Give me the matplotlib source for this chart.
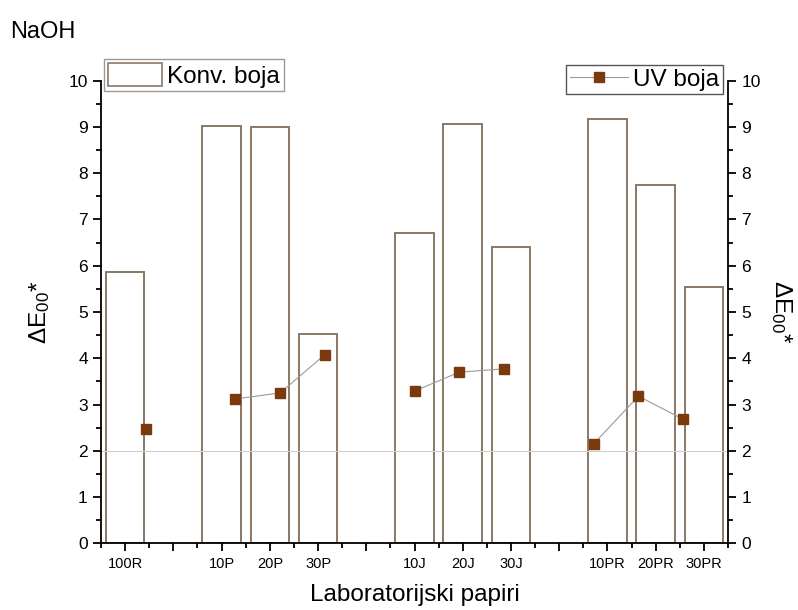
import numpy as np
import matplotlib
matplotlib.use("Agg")
import matplotlib.pyplot as plt
from matplotlib.ticker import MultipleLocator
from matplotlib.lines import Line2D
from matplotlib.patches import Patch

plt.rcParams['font.family'] = ['Liberation Sans', 'DejaVu Sans']
plt.rcParams['mathtext.fontset'] = 'custom'
plt.rcParams['mathtext.rm'] = 'Liberation Sans'
plt.rcParams['mathtext.it'] = 'Liberation Sans:italic'

# data (blank slots separate the groups)
labels = ['100R', '', '10P', '20P', '30P', '', '10J', '20J', '30J', '', '10PR', '20PR', '30PR']
konv_boja = [5.87, np.nan, 9.02, 8.99, 4.52, np.nan, 6.71, 9.06, 6.41, np.nan, 9.17, 7.74, 5.55]
uv_boja = [2.46, np.nan, 3.12, 3.25, 4.08, np.nan, 3.29, 3.70, 3.77, np.nan, 2.15, 3.18, 2.68]

bar_edge = '#8a7866'
uv_col = '#7a3a0e'

def main():
    pos = np.arange(1, len(labels) + 1)
    konv = np.array(konv_boja)
    uv = np.array(uv_boja)
    has_bar = ~np.isnan(konv)

    fig = plt.figure(figsize=(7.98, 6.10), dpi=100)
    rect = [0.1266, 0.1093, 0.7857, 0.7586]
    ax = fig.add_axes(rect)
    ax2 = fig.add_axes(rect, label='uv')
    ax2.patch.set_visible(False)

    # bars on the left layer
    ax.bar(pos[has_bar], konv[has_bar], width=0.8, facecolor='white',
           edgecolor=bar_edge, linewidth=1.4, zorder=1)
    ax.axhline(2, color='#d0d0d0', lw=0.8, zorder=2)
    ax.set_xlim(0.5, 13.5)
    ax.set_ylim(0, 10)
    ax.set_xticks(pos)
    ax.set_xticklabels(labels, fontsize=10.5)
    ax.set_xticks(np.arange(0.5, 14, 1), minor=True)
    ax.yaxis.set_major_locator(MultipleLocator(1))
    ax.yaxis.set_minor_locator(MultipleLocator(0.5))
    ax.tick_params(axis='both', which='major', direction='out', length=6, width=1.3)
    ax.tick_params(axis='both', which='minor', direction='out', length=3.5, width=1.3)
    ax.tick_params(axis='y', labelsize=12.5)
    for s in ['top', 'right']:
        ax.spines[s].set_visible(False)
    for s in ['left', 'bottom']:
        ax.spines[s].set_linewidth(1.3)
    ax.set_xlabel('Laboratorijski papiri', fontsize=17.5, labelpad=10)
    ax.set_ylabel(r'ΔE$_{00}$*', fontsize=17.5, labelpad=12)

    # points on the right layer (own x scale)
    ax2.plot(pos, uv, color='#9a9a9a', lw=0.8, zorder=3)
    ax2.plot(pos, uv, linestyle='none', marker='s', markersize=7,
             color=uv_col, zorder=4)
    ax2.set_xlim(0, 14)
    ax2.set_ylim(0, 10)
    ax2.xaxis.set_visible(False)
    ax2.yaxis.tick_right()
    ax2.yaxis.set_label_position('right')
    ax2.yaxis.set_major_locator(MultipleLocator(1))
    ax2.yaxis.set_minor_locator(MultipleLocator(0.5))
    ax2.tick_params(axis='y', which='major', direction='out', length=6, width=1.3, labelsize=12.5)
    ax2.tick_params(axis='y', which='minor', direction='out', length=3.5, width=1.3)
    for s in ['top', 'left', 'bottom']:
        ax2.spines[s].set_visible(False)
    ax2.spines['right'].set_linewidth(1.3)
    ax2.set_ylabel(r'ΔE$_{00}$*', fontsize=17.5, rotation=270, labelpad=24)

    h1 = Patch(facecolor='white', edgecolor=bar_edge, linewidth=1.2)
    ax.legend([h1], ['Konv. boja'], loc='upper left',
              bbox_to_anchor=(104 / 798, 1 - 59 / 610), bbox_transform=fig.transFigure,
              fontsize=17.5, fancybox=False, edgecolor='#999999', framealpha=1,
              borderpad=0.15, handlelength=2.25, handleheight=1.1,
              handletextpad=0.2, borderaxespad=0)
    h2 = Line2D([], [], color='#9a9a9a', lw=0.8, marker='s', markersize=7,
                markerfacecolor=uv_col, markeredgecolor=uv_col)
    ax2.legend([h2], ['UV boja'], loc='upper right',
               bbox_to_anchor=(723 / 798, 1 - 65 / 610), bbox_transform=fig.transFigure,
               fontsize=17.5, fancybox=False, edgecolor='#555555', framealpha=1,
               borderpad=0.15, handlelength=2.4, handletextpad=0.2, borderaxespad=0)

    fig.text(0.013, 0.948, 'NaOH', fontsize=17, va='center', ha='left')

    fig.savefig('out.png', dpi=100)

if __name__ == "__main__":
    main()
